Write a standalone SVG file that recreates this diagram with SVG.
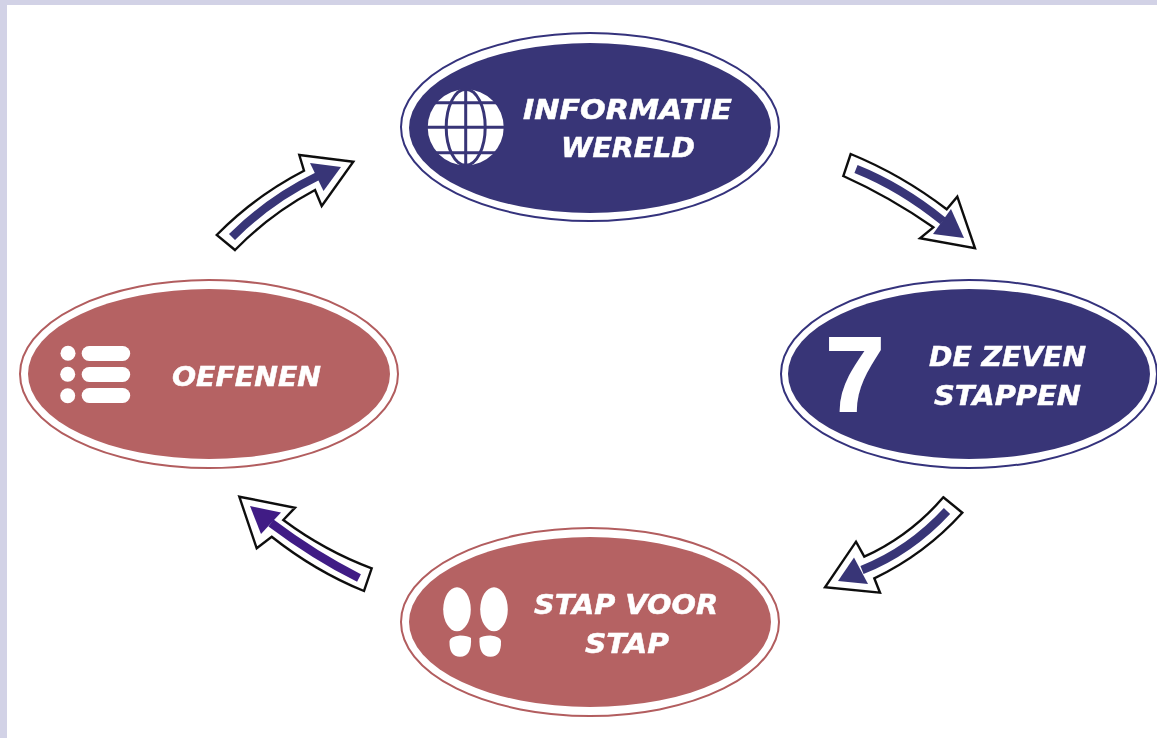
<svg xmlns="http://www.w3.org/2000/svg" width="1157" height="738" viewBox="0 0 1157 738">
<style>
.ring{fill:#fff;stroke-width:2}
.navy .ring{stroke:#34337c}.navy .core{fill:#383577}
.rose .ring{stroke:#b25d5e}.rose .core{fill:#b56263}
.lbl{font-family:"DejaVu Sans","Liberation Sans",sans-serif;font-weight:700;font-style:italic;font-size:27px;fill:#fff;stroke:#fff;stroke-width:0.5}
.shell{fill:#fff;stroke:#111;stroke-width:2.4;stroke-linejoin:miter}
.shaft{fill:none;stroke-width:8.5}
.ic{fill:#fff}
</style>
<defs><filter id="soft" x="-5%" y="-5%" width="110%" height="110%"><feGaussianBlur stdDeviation="0.7"/></filter></defs>
<rect width="1157" height="738" fill="#d2d2e6"/>
<rect x="7" y="5" width="1150" height="733" fill="#fff"/>
<g filter="url(#soft)">
<g id="connectors">
<g id="arrow-top-left">
<path class="shell" d="M235 250Q270 214 315 190L321.7 206L353.3 161.7L299.3 155L304 170.7Q255 196 216.7 235Z"/>
<path class="shaft" stroke="#383577" d="M232 237Q270 199 318 176"/>
<path fill="#383577" d="M341 167L310 163L323.5 191Z"/>
</g>
<g id="arrow-top-right">
<path class="shell" d="M850.7 154L843.3 176Q890 197 933.3 227.3L920 238.3L975 248.3L957.3 196.7L946.7 209.3Q902 175 850.7 154Z"/>
<path class="shaft" stroke="#383577" d="M856 169Q901 187 943 221"/>
<path fill="#383577" d="M964 238L951 209L933 234Z"/>
</g>
<g id="arrow-bottom-right">
<path class="shell" d="M943.3 497.3L962.3 512.7Q925 554 874.3 578.3L880 592.7L825 587.3L856 541.7L864.3 556.7Q910 536 943.3 497.3Z"/>
<path class="shaft" stroke="#383577" d="M947 511Q910 551 862 570"/>
<path fill="#383577" d="M838 581L854 557.5L868 584Z"/>
</g>
<g id="arrow-bottom-left">
<path class="shell" d="M239.3 496.7L295 507.7L283.3 520Q325 551 371.7 568.3L364 591Q315 571 271.7 536.7L256.7 548.3Z"/>
<path class="shaft" stroke="#3f1f85" d="M359 578Q315 556 271 523"/>
<path fill="#3f1f85" d="M250 506L281 512.5L261 534Z"/>
</g>
</g>
<g id="node-informatie" class="navy">
<ellipse class="ring" cx="590" cy="127" rx="189" ry="94"/>
<ellipse class="core" cx="590" cy="128" rx="181" ry="85"/>
<circle class="ic" cx="465.7" cy="127.3" r="38"/>
<g fill="none" stroke="#383577" stroke-width="3">
<path d="M427 127.3H505M431 102.7H500M431 152.7H500M465.7 89V166"/>
<ellipse cx="465.7" cy="127.3" rx="19.5" ry="38"/>
</g>
<text class="lbl" x="523" y="119.3" textLength="209" lengthAdjust="spacingAndGlyphs">INFORMATIE</text>
<text class="lbl" x="561" y="157" textLength="134" lengthAdjust="spacingAndGlyphs">WERELD</text>
</g>
<g id="node-zeven" class="navy">
<ellipse class="ring" cx="969" cy="374" rx="188" ry="94"/>
<ellipse class="core" cx="969" cy="374" rx="181" ry="85"/>
<text x="855" y="411" text-anchor="middle" font-family="'Liberation Sans',Arial,sans-serif" font-weight="700" font-size="106" fill="#fff" stroke="#fff" stroke-width="2">7</text>
<text class="lbl" x="929" y="366" textLength="157" lengthAdjust="spacingAndGlyphs">DE ZEVEN</text>
<text class="lbl" x="934" y="405" textLength="147" lengthAdjust="spacingAndGlyphs">STAPPEN</text>
</g>
<g id="node-stap" class="rose">
<ellipse class="ring" cx="590" cy="622" rx="189" ry="94"/>
<ellipse class="core" cx="590" cy="622" rx="181" ry="85"/>
<g class="ic">
<ellipse cx="457" cy="609.3" rx="13.8" ry="22"/>
<ellipse cx="494" cy="609.3" rx="13.8" ry="22"/>
<path d="M449.5 641Q450 636.5 460 635.5Q468 635.5 471 638Q472 656.7 460 656.7Q449 656.7 449.5 641Z"/>
<path d="M501 641Q500.5 636.5 490.5 635.5Q482.5 635.5 479.5 638Q478.5 656.7 490.5 656.7Q501.5 656.7 501 641Z"/>
</g>
<text class="lbl" x="534" y="614" textLength="184" lengthAdjust="spacingAndGlyphs">STAP VOOR</text>
<text class="lbl" x="585" y="652.7" textLength="84" lengthAdjust="spacingAndGlyphs">STAP</text>
</g>
<g id="node-oefenen" class="rose">
<ellipse class="ring" cx="209" cy="374" rx="189" ry="94"/>
<ellipse class="core" cx="209" cy="374" rx="181" ry="85"/>
<g class="ic">
<circle cx="68" cy="353.3" r="7.5"/><circle cx="67.7" cy="374.3" r="7.5"/><circle cx="67.7" cy="395.7" r="7.5"/>
<rect x="81.7" y="346" width="48.5" height="15" rx="7.5"/>
<rect x="81.7" y="367" width="48.5" height="15" rx="7.5"/>
<rect x="81.7" y="388" width="48.5" height="15" rx="7.5"/>
</g>
<text class="lbl" x="172" y="386" textLength="149" lengthAdjust="spacingAndGlyphs">OEFENEN</text>
</g>
</g>
</svg>
